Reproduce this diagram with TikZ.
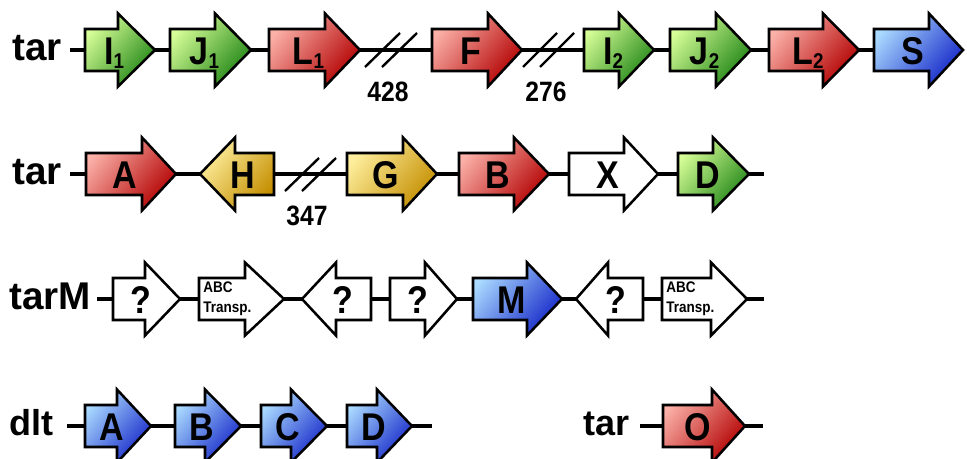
\documentclass[tikz,border=0pt]{standalone}
\usepackage{fontspec}
\setmainfont{Liberation Sans}
\newfontfamily\genefont[FakeStretch=0.88]{Liberation Sans}
\definecolor{redL}{HTML}{FBB0A8}
\definecolor{redD}{HTML}{B20000}
\definecolor{greenL}{HTML}{D8FF98}
\definecolor{greenD}{HTML}{1E8414}
\definecolor{blueL}{HTML}{AADAFF}
\definecolor{blueD}{HTML}{1426C8}
\definecolor{goldL}{HTML}{FFF0A0}
\definecolor{goldD}{HTML}{C48E00}
\newcommand{\gene}[7]{%
  \node[genebox, minimum width={(#4-#2)*0.75pt}] (#1) at ({(#2+#4)/2},#5) {};
  \path[genearrow,#6] (#2,#5-21) -- (#3,#5-21) -- (#3,#5-36.5) -- (#4,#5) -- (#3,#5+36.5) -- (#3,#5+21) -- (#2,#5+21) -- cycle;
  \node[genelabel] (#1lab) at ({(#2+#4)/2-6},#5+14) {#7};
}
\newcommand{\geneL}[7]{%
  \node[genebox, minimum width={(#4-#2)*0.75pt}] (#1) at ({(#2+#4)/2},#5) {};
  \path[genearrow,#6] (#4,#5-21) -- (#3,#5-21) -- (#3,#5-36.5) -- (#2,#5) -- (#3,#5+36.5) -- (#3,#5+21) -- (#4,#5+21) -- cycle;
  \node[genelabel] (#1lab) at ({(#2+#4)/2+6},#5+14) {#7};
}
\newcommand{\gsub}[1]{\raisebox{-3pt}{\fontsize{16}{16}\selectfont #1}}
\begin{document}
\begin{tikzpicture}[x=0.75pt,y=-0.75pt,
  genebox/.style={rectangle, draw=none, inner sep=0pt, outer sep=0pt, minimum height=54.75pt},
  genearrow/.style={draw=black, line width=1.9pt, line join=miter},
  conn/.style={draw=black, line width=2.3pt},
  brk/.style={draw=black, line width=1.8pt},
  genelabel/.style={anchor=base, inner sep=0pt, font=\genefont\fontsize{29}{30}\selectfont\bfseries},
  rowlabel/.style={anchor=base west, inner sep=0pt, font=\fontsize{29}{30}\selectfont\bfseries},
  rowlabelsm/.style={anchor=base west, inner sep=0pt, font=\fontsize{27}{30}\selectfont\bfseries},
  numlabel/.style={inner sep=0pt, font=\genefont\fontsize{21}{22}\selectfont\bfseries},
  abclabel/.style={anchor=west, inner sep=0pt, align=left, font=\genefont\fontsize{11.5}{15}\selectfont\bfseries},
  gred/.style={top color=redL, bottom color=redD, shading angle=50},
  ggreen/.style={top color=greenL, bottom color=greenD, shading angle=50},
  gblue/.style={top color=blueL, bottom color=blueD, shading angle=50},
  ggold/.style={top color=goldL, bottom color=goldD, shading angle=50},
  gwhite/.style={fill=white}]
\useasboundingbox (0,0) rectangle (967,458);

% ---------------- Row 1 ----------------
\node[rowlabel] (tar1) at (12,60) {tar};
\coordinate (s1) at (70,50);
\gene{i1}{85}{118}{155}{50}{ggreen}{I\gsub{1}}
\gene{j1}{170}{215}{251}{50}{ggreen}{J\gsub{1}}
\gene{l1}{269}{325}{360}{50}{gred}{L\gsub{1}}
\gene{f}{432}{488}{522}{50}{gred}{F}
\gene{i2}{584}{619}{654}{50}{ggreen}{I\gsub{2}}
\gene{j2}{670}{716}{751}{50}{ggreen}{J\gsub{2}}
\gene{l2}{769}{823}{859}{50}{gred}{L\gsub{2}}
\gene{s}{874}{929}{963}{50}{gblue}{S}
\draw[conn] (s1) -- (i1.west);
\draw[conn] (i1.east) -- (j1.west);
\draw[conn] (j1.east) -- (l1.west);
\draw[conn] (l1.east) -- (f.west);
\draw[conn] (f.east) -- (i2.west);
\draw[conn] (i2.east) -- (j2.west);
\draw[conn] (j2.east) -- (l2.west);
\draw[conn] (l2.east) -- (s.west);
\draw[brk] (365,67) -- (400,33);
\draw[brk] (382,67) -- (417,33);
\draw[brk] (523,67) -- (557,33);
\draw[brk] (540,67) -- (574,33);
\node[numlabel] (n428) at (388,92) {428};
\node[numlabel] (n276) at (546,92) {276};

% ---------------- Row 2 ----------------
\node[rowlabel] (tar2) at (12,184) {tar};
\coordinate (s2) at (70,174);
\coordinate (e2) at (764,174);
\gene{a}{86}{142}{176}{174}{gred}{A}
\geneL{h}{200}{235}{274}{174}{ggold}{H}
\gene{g}{347}{403}{437}{174}{ggold}{G}
\gene{b}{459}{514}{549}{174}{gred}{B}
\gene{x}{569}{624}{658}{174}{gwhite}{X}
\gene{d}{678}{713}{749}{174}{ggreen}{D}
\draw[conn] (s2) -- (a.west);
\draw[conn] (a.east) -- (h.west);
\draw[conn] (h.east) -- (g.west);
\draw[conn] (g.east) -- (b.west);
\draw[conn] (b.east) -- (x.west);
\draw[conn] (x.east) -- (d.west);
\draw[conn] (d.east) -- (e2);
\draw[brk] (285,191) -- (319,158);
\draw[brk] (302,191) -- (336,158);
\node[numlabel] (n347) at (307,216) {347};

% ---------------- Row 3 ----------------
\node[rowlabel] (tarm) at (9,309) {tarM};
\coordinate (s3) at (97,299);
\coordinate (e3) at (764,299);
\gene{q1}{113}{145}{180}{299}{gwhite}{?}
\gene{abc1}{199}{245}{284}{299}{gwhite}{}
\geneL{q2}{302}{336}{371}{299}{gwhite}{?}
\gene{q3}{390}{425}{457}{299}{gwhite}{?}
\gene{m}{473}{527}{562}{299}{gblue}{M}
\geneL{q4}{576}{608}{643}{299}{gwhite}{?}
\gene{abc2}{662}{711}{747}{299}{gwhite}{}
\node[abclabel] (abc1lab2) at (203,299) {ABC\\Transp.};
\node[abclabel] (abc2lab2) at (666,299) {ABC\\Transp.};
\draw[conn] (s3) -- (q1.west);
\draw[conn] (q1.east) -- (abc1.west);
\draw[conn] (abc1.east) -- (q2.west);
\draw[conn] (q2.east) -- (q3.west);
\draw[conn] (q3.east) -- (m.west);
\draw[conn] (m.east) -- (q4.west);
\draw[conn] (q4.east) -- (abc2.west);
\draw[conn] (abc2.east) -- (e3);

% ---------------- Row 4 ----------------
\node[rowlabelsm] (dlt) at (9,435) {dlt};
\coordinate (s4) at (67,426);
\coordinate (e4) at (432,426);
\gene{da}{85}{117}{151}{426}{gblue}{A}
\gene{db}{175}{205}{241}{426}{gblue}{B}
\gene{dc}{261}{291}{327}{426}{gblue}{C}
\gene{dd}{347}{377}{412}{426}{gblue}{D}
\draw[conn] (s4) -- (da.west);
\draw[conn] (da.east) -- (db.west);
\draw[conn] (db.east) -- (dc.west);
\draw[conn] (dc.east) -- (dd.west);
\draw[conn] (dd.east) -- (e4);

\node[rowlabelsm] (tar4) at (583,435) {tar};
\coordinate (s5) at (640,426);
\coordinate (e5) at (763,426);
\gene{o}{663}{712}{745}{426}{gred}{O}
\draw[conn] (s5) -- (o.west);
\draw[conn] (o.east) -- (e5);
\end{tikzpicture}
\end{document}
